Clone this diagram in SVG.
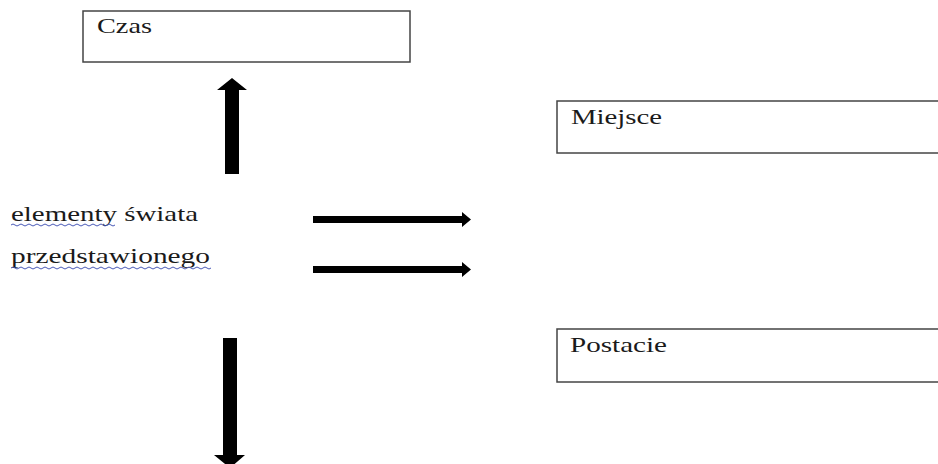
<svg xmlns="http://www.w3.org/2000/svg" width="938" height="464" viewBox="0 0 938 464">
<style>
.box{fill:#fff;stroke:#444;stroke-width:1.5}
.lbl{font-family:"Liberation Serif","Times New Roman",serif;font-size:22px;fill:#1a1a1a}
.arr{fill:#000}
.sq{fill:none;stroke:#4a5ab8;stroke-width:1}
</style>
<rect width="938" height="464" fill="#fff"/>
<g id="czas">
<rect class="box" x="83" y="11" width="327" height="51"/>
<text class="lbl" x="97" y="33" textLength="55" lengthAdjust="spacingAndGlyphs">Czas</text>
</g>
<g id="miejsce">
<rect class="box" x="557" y="101" width="390" height="52"/>
<text class="lbl" x="571" y="124" textLength="91" lengthAdjust="spacingAndGlyphs">Miejsce</text>
</g>
<g id="postacie">
<rect class="box" x="557" y="329" width="390" height="53"/>
<text class="lbl" x="570" y="352" textLength="97" lengthAdjust="spacingAndGlyphs">Postacie</text>
</g>
<g id="elementy">
<text class="lbl" x="11" y="221" textLength="187" lengthAdjust="spacingAndGlyphs">elementy świata</text>
<text class="lbl" x="11" y="263" textLength="199" lengthAdjust="spacingAndGlyphs">przedstawionego</text>
<path class="sq" d="M11 225 q2 -2 4 0 t4 0 t4 0 t4 0 t4 0 t4 0 t4 0 t4 0 t4 0 t4 0 t4 0 t4 0 t4 0 t4 0 t4 0 t4 0 t4 0 t4 0 t4 0 t4 0 t4 0 t4 0 t4 0 t4 0 t4 0 t4 0"/>
<path class="sq" d="M11 268 q2 -2 4 0 t4 0 t4 0 t4 0 t4 0 t4 0 t4 0 t4 0 t4 0 t4 0 t4 0 t4 0 t4 0 t4 0 t4 0 t4 0 t4 0 t4 0 t4 0 t4 0 t4 0 t4 0 t4 0 t4 0 t4 0 t4 0 t4 0 t4 0 t4 0 t4 0 t4 0 t4 0 t4 0 t4 0 t4 0 t4 0 t4 0 t4 0 t4 0 t4 0 t4 0 t4 0 t4 0 t4 0 t4 0 t4 0 t4 0 t4 0 t4 0 t4 0"/>
</g>
<g id="connectors">
<polygon class="arr" points="225,174 225,90 217,90 232,78 247,90 239,90 239,174"/>
<polygon class="arr" points="223,338 237,338 237,455 245,455 230,468 214,455 223,455"/>
<polygon class="arr" points="313,216 462,216 462,212 471,219.5 462,227 462,223 313,223"/>
<polygon class="arr" points="313,266 462,266 462,262 471,269.5 462,277 462,273 313,273"/>
</g>
</svg>
